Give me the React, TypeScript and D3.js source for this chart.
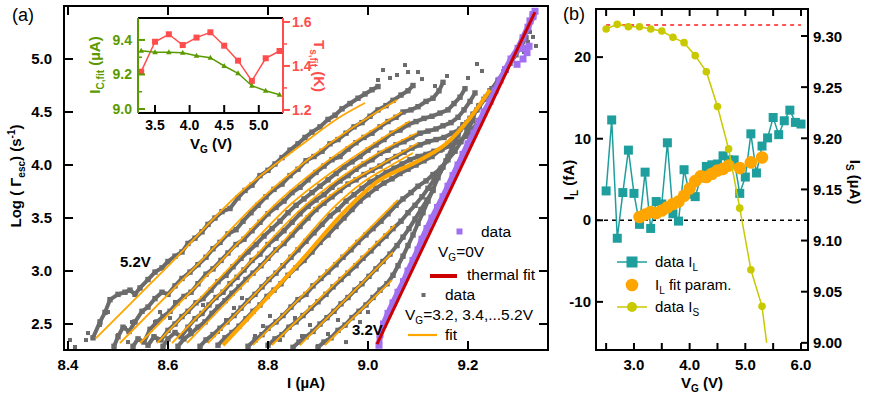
import React from 'react'
import * as d3 from 'd3'

type P = [number, number]

const FONT = 'Arial, "Liberation Sans", sans-serif'

// ---------- panel (a): log escape rate vs bias current ----------
const xTicksA = [8.4, 8.6, 8.8, 9.0, 9.2]
const yTicksA = [2.5, 3.0, 3.5, 4.0, 4.5, 5.0]

// fits, from VG = 5.2 V (left) to 3.2 V (right)
const fit1: P[] = [[8.456, 2.368], [8.608, 3.085], [8.75, 3.764], [8.864, 4.179], [8.944, 4.453], [8.994, 4.585]]
const fit2: P[] = [[8.504, 2.321], [8.664, 3.085], [8.784, 3.67], [8.884, 4.066], [8.974, 4.368], [9.058, 4.613]]
const fit3: P[] = [[8.544, 2.321], [8.704, 3.085], [8.824, 3.67], [8.914, 4.019], [8.994, 4.283], [9.068, 4.5]]
const fit4: P[] = [[8.578, 2.321], [8.734, 3.085], [8.844, 3.623], [8.934, 3.953], [9.014, 4.208], [9.084, 4.415]]
const fit5: P[] = [[8.608, 2.321], [8.764, 3.085], [8.864, 3.575], [8.944, 3.877], [9.024, 4.123], [9.098, 4.302]]
const fit6: P[] = [[8.638, 2.321], [8.794, 3.085], [8.894, 3.594], [8.954, 3.811], [9.024, 4.0], [9.1, 4.208]]
const fit7: P[] = [[8.68, 2.321], [8.834, 3.085], [8.934, 3.613], [8.988, 3.83], [9.044, 3.991], [9.09, 4.113]]
const fitThick: P[] = [[8.71, 2.302], [8.864, 3.085], [8.964, 3.613], [9.018, 3.84], [9.104, 4.047], [9.158, 4.208], [9.204, 4.443], [9.244, 4.708]]
const fit9: P[] = [[8.77, 2.302], [9.06, 3.67]]
const fit10: P[] = [[8.808, 2.302], [9.054, 3.434]]
const fit11: P[] = [[8.864, 2.302], [9.05, 3.179]]
const fit12: P[] = [[8.914, 2.302], [9.048, 2.915]]

// gray data traces
const g1: P[] = [[8.45, 2.37], [8.464, 2.52], [8.474, 2.61], [8.484, 2.73], [8.5, 2.78], [8.514, 2.8], [8.524, 2.82], [8.534, 2.78], [8.544, 2.84], [8.56, 2.92], [8.574, 2.99], [8.588, 3.03], [8.6, 3.09], [8.614, 3.14], [8.628, 3.18], [8.64, 3.26], [8.654, 3.31], [8.668, 3.37], [8.68, 3.44], [8.694, 3.5], [8.708, 3.56], [8.724, 3.59], [8.74, 3.69], [8.754, 3.76], [8.768, 3.81], [8.784, 3.9], [8.8, 3.95], [8.814, 4.01], [8.828, 4.07], [8.844, 4.14], [8.86, 4.2], [8.874, 4.26], [8.888, 4.31], [8.904, 4.36], [8.92, 4.43], [8.934, 4.47], [8.948, 4.53], [8.964, 4.58], [8.98, 4.63], [8.994, 4.67], [9.008, 4.71], [9.02, 4.74]]
const g2: P[] = [[8.492, 2.29], [8.5, 2.38], [8.51, 2.47], [8.522, 2.43], [8.534, 2.52], [8.548, 2.62], [8.56, 2.66], [8.574, 2.74], [8.588, 2.8], [8.6, 2.78], [8.614, 2.86], [8.628, 2.93], [8.644, 2.99], [8.66, 3.06], [8.676, 3.13], [8.69, 3.21], [8.704, 3.27], [8.72, 3.35], [8.736, 3.39], [8.75, 3.47], [8.766, 3.55], [8.78, 3.62], [8.796, 3.7], [8.812, 3.77], [8.828, 3.82], [8.844, 3.9], [8.86, 3.96], [8.876, 4.04], [8.892, 4.08], [8.908, 4.13], [8.924, 4.2], [8.94, 4.24], [8.956, 4.3], [8.972, 4.36], [8.988, 4.4], [9.004, 4.46], [9.02, 4.52], [9.036, 4.56], [9.05, 4.61], [9.066, 4.66], [9.08, 4.7], [9.09, 4.75]]
const g3: P[] = [[8.53, 2.29], [8.54, 2.36], [8.552, 2.33], [8.564, 2.45], [8.578, 2.52], [8.59, 2.57], [8.604, 2.62], [8.618, 2.7], [8.632, 2.76], [8.646, 2.8], [8.66, 2.88], [8.676, 2.97], [8.69, 3.02], [8.706, 3.1], [8.72, 3.17], [8.736, 3.25], [8.752, 3.3], [8.768, 3.38], [8.784, 3.46], [8.8, 3.54], [8.816, 3.6], [8.832, 3.66], [8.848, 3.74], [8.864, 3.79], [8.88, 3.86], [8.896, 3.93], [8.912, 3.99], [8.928, 4.05], [8.944, 4.08], [8.96, 4.15], [8.976, 4.21], [8.992, 4.26], [9.008, 4.3], [9.024, 4.36], [9.04, 4.41], [9.056, 4.45], [9.07, 4.5], [9.086, 4.52], [9.1, 4.55], [9.116, 4.6], [9.13, 4.63], [9.142, 4.7], [9.15, 4.78]]
const g4: P[] = [[8.56, 2.3], [8.572, 2.38], [8.586, 2.35], [8.6, 2.44], [8.614, 2.5], [8.628, 2.57], [8.64, 2.62], [8.656, 2.7], [8.67, 2.74], [8.686, 2.82], [8.7, 2.9], [8.716, 2.96], [8.73, 3.04], [8.746, 3.12], [8.76, 3.18], [8.776, 3.25], [8.792, 3.33], [8.808, 3.4], [8.824, 3.47], [8.84, 3.55], [8.856, 3.62], [8.872, 3.68], [8.888, 3.74], [8.904, 3.8], [8.92, 3.86], [8.936, 3.92], [8.952, 3.98], [8.968, 4.03], [8.984, 4.08], [9.0, 4.14], [9.016, 4.19], [9.032, 4.24], [9.048, 4.3], [9.064, 4.33], [9.08, 4.38], [9.096, 4.41], [9.112, 4.44], [9.128, 4.46], [9.144, 4.49], [9.16, 4.52], [9.172, 4.58], [9.184, 4.64], [9.194, 4.72]]
const g5: P[] = [[8.59, 2.29], [8.6, 2.36], [8.614, 2.42], [8.626, 2.38], [8.64, 2.47], [8.654, 2.55], [8.668, 2.6], [8.682, 2.68], [8.696, 2.75], [8.71, 2.8], [8.724, 2.88], [8.738, 2.94], [8.752, 3.01], [8.768, 3.1], [8.784, 3.16], [8.8, 3.25], [8.816, 3.31], [8.832, 3.38], [8.848, 3.46], [8.864, 3.54], [8.88, 3.61], [8.896, 3.67], [8.912, 3.72], [8.928, 3.79], [8.944, 3.85], [8.96, 3.9], [8.976, 3.96], [8.992, 4.01], [9.008, 4.05], [9.024, 4.11], [9.04, 4.14], [9.056, 4.19], [9.072, 4.22], [9.088, 4.26], [9.104, 4.3], [9.12, 4.32], [9.136, 4.34], [9.15, 4.37], [9.166, 4.4], [9.18, 4.45], [9.192, 4.52], [9.204, 4.6], [9.214, 4.68]]
const g6: P[] = [[8.62, 2.29], [8.632, 2.36], [8.646, 2.41], [8.66, 2.47], [8.674, 2.52], [8.688, 2.6], [8.7, 2.66], [8.714, 2.72], [8.728, 2.79], [8.742, 2.85], [8.756, 2.92], [8.77, 2.98], [8.786, 3.05], [8.8, 3.12], [8.816, 3.2], [8.832, 3.26], [8.848, 3.34], [8.864, 3.42], [8.88, 3.5], [8.896, 3.58], [8.912, 3.64], [8.928, 3.7], [8.944, 3.76], [8.96, 3.82], [8.976, 3.86], [8.992, 3.91], [9.008, 3.95], [9.024, 3.99], [9.04, 4.04], [9.056, 4.08], [9.072, 4.12], [9.088, 4.16], [9.104, 4.19], [9.12, 4.22], [9.136, 4.24], [9.152, 4.26], [9.168, 4.3], [9.184, 4.34], [9.198, 4.4], [9.21, 4.48], [9.222, 4.56]]
const g7: P[] = [[8.664, 2.29], [8.676, 2.35], [8.69, 2.4], [8.704, 2.46], [8.718, 2.52], [8.732, 2.58], [8.746, 2.65], [8.76, 2.72], [8.774, 2.78], [8.788, 2.85], [8.802, 2.92], [8.816, 2.98], [8.83, 3.05], [8.846, 3.13], [8.86, 3.2], [8.876, 3.28], [8.892, 3.36], [8.908, 3.44], [8.924, 3.52], [8.94, 3.58], [8.956, 3.66], [8.972, 3.72], [8.988, 3.78], [9.004, 3.84], [9.02, 3.88], [9.036, 3.93], [9.052, 3.97], [9.068, 4.01], [9.084, 4.05], [9.1, 4.08], [9.116, 4.1], [9.132, 4.13], [9.148, 4.15], [9.164, 4.18], [9.18, 4.22], [9.196, 4.27], [9.21, 4.34], [9.222, 4.42], [9.232, 4.5]]
const g8: P[] = [[8.7, 2.3], [8.714, 2.37], [8.728, 2.42], [8.742, 2.48], [8.756, 2.55], [8.77, 2.62], [8.784, 2.68], [8.798, 2.76], [8.812, 2.82], [8.826, 2.88], [8.84, 2.96], [8.856, 3.03], [8.872, 3.1], [8.888, 3.18], [8.904, 3.27], [8.92, 3.34], [8.936, 3.42], [8.952, 3.5], [8.968, 3.58], [8.984, 3.66], [9.0, 3.72], [9.016, 3.78], [9.032, 3.83], [9.048, 3.87], [9.064, 3.92], [9.08, 3.96], [9.096, 4.0], [9.112, 4.04], [9.128, 4.08], [9.144, 4.14], [9.16, 4.2], [9.176, 4.28], [9.19, 4.36], [9.204, 4.44], [9.218, 4.52], [9.232, 4.62], [9.244, 4.7]]
const g9: P[] = [[8.76, 2.29], [8.774, 2.35], [8.788, 2.4], [8.8, 2.46], [8.816, 2.52], [8.83, 2.58], [8.846, 2.66], [8.86, 2.73], [8.876, 2.78], [8.89, 2.86], [8.906, 2.93], [8.92, 2.99], [8.936, 3.06], [8.95, 3.13], [8.966, 3.2], [8.98, 3.27], [8.996, 3.34], [9.01, 3.4], [9.026, 3.47], [9.04, 3.54], [9.056, 3.62], [9.07, 3.68], [9.086, 3.74], [9.1, 3.8], [9.116, 3.85], [9.13, 3.91], [9.146, 3.97], [9.16, 4.05], [9.174, 4.13], [9.186, 4.22], [9.198, 4.32], [9.21, 4.42]]
const g10: P[] = [[8.8, 2.3], [8.814, 2.36], [8.828, 2.4], [8.842, 2.47], [8.856, 2.52], [8.87, 2.58], [8.886, 2.65], [8.9, 2.71], [8.916, 2.78], [8.93, 2.85], [8.946, 2.92], [8.96, 2.98], [8.976, 3.05], [8.99, 3.12], [9.006, 3.19], [9.02, 3.26], [9.036, 3.33], [9.05, 3.4], [9.066, 3.47], [9.08, 3.55], [9.094, 3.62], [9.108, 3.7], [9.12, 3.78], [9.132, 3.86], [9.144, 3.95], [9.156, 4.04], [9.168, 4.12]]
const g11: P[] = [[8.85, 2.28], [8.862, 2.33], [8.876, 2.38], [8.89, 2.43], [8.904, 2.5], [8.918, 2.56], [8.932, 2.62], [8.946, 2.69], [8.96, 2.75], [8.974, 2.82], [8.988, 2.88], [9.002, 2.95], [9.016, 3.02], [9.03, 3.09], [9.044, 3.16], [9.058, 3.24], [9.07, 3.32], [9.082, 3.4], [9.094, 3.49], [9.106, 3.58], [9.118, 3.67], [9.13, 3.76]]
const g12: P[] = [[8.9, 2.28], [8.912, 2.33], [8.926, 2.37], [8.94, 2.44], [8.954, 2.49], [8.968, 2.56], [8.982, 2.62], [8.996, 2.68], [9.01, 2.75], [9.024, 2.82], [9.038, 2.88], [9.05, 2.96], [9.06, 3.05], [9.07, 3.14], [9.08, 3.24], [9.09, 3.34], [9.1, 3.45], [9.11, 3.55], [9.12, 3.66], [9.13, 3.77], [9.14, 3.88], [9.15, 3.98], [9.16, 4.08], [9.17, 4.18], [9.18, 4.28], [9.19, 4.38]]
const g13: P[] = [[9.2, 4.36], [9.21, 4.46], [9.222, 4.55], [9.236, 4.64], [9.248, 4.72], [9.26, 4.8], [9.272, 4.88], [9.284, 4.96], [9.296, 5.04], [9.306, 5.12], [9.316, 5.2]]

const grayScatter: P[] = [
  [8.404, 2.349], [8.414, 2.283], [8.44, 2.415], [8.436, 2.349], [8.464, 2.491], [8.48, 2.613],
  [8.5, 2.396], [8.514, 2.462], [8.528, 2.519], [8.52, 2.33], [8.564, 2.443], [8.574, 2.519],
  [8.584, 2.613], [8.58, 2.349], [8.604, 2.557], [8.614, 2.708], [8.644, 2.443], [8.656, 2.557],
  [8.67, 2.679], [8.7, 2.425], [8.716, 2.538], [8.732, 2.651], [8.748, 2.745], [8.774, 2.387],
  [8.79, 2.481], [8.804, 2.576], [8.824, 2.349], [8.84, 2.462], [8.854, 2.557], [8.868, 2.387],
  [8.884, 2.491], [8.9, 2.293], [8.92, 2.406], [8.94, 2.538], [8.956, 2.33], [8.984, 2.519],
  [9.0, 2.613], [9.02, 4.802], [9.03, 4.896], [9.044, 4.821], [9.058, 4.849], [9.074, 4.943],
  [9.08, 4.877], [9.1, 4.877], [9.108, 4.811], [9.134, 4.745], [9.158, 4.84], [9.2, 4.821],
  [9.218, 4.953], [9.228, 4.887], [9.324, 5.255], [9.33, 5.208], [9.32, 5.16], [9.336, 5.123],
  [9.312, 5.066],
]

// VG = 0 V data and thermal fit
const purpleBand: P[] = [[9.022, 2.3], [9.024, 2.4], [9.031, 2.5], [9.04, 2.6], [9.05, 2.7], [9.06, 2.8], [9.071, 2.9], [9.08, 3.0], [9.09, 3.1], [9.1, 3.2], [9.108, 3.3], [9.118, 3.4], [9.128, 3.5], [9.139, 3.6], [9.15, 3.7], [9.16, 3.8], [9.17, 3.9], [9.18, 4.0], [9.19, 4.1], [9.2, 4.2], [9.212, 4.3], [9.222, 4.4], [9.232, 4.5], [9.244, 4.6], [9.254, 4.7], [9.264, 4.8], [9.275, 4.9], [9.286, 5.0], [9.3, 5.1], [9.31, 5.2], [9.32, 5.3], [9.33, 5.4], [9.334, 5.45]]
const purpleExtra: P[] = [[9.298, 4.95], [9.31, 5.0], [9.318, 5.06], [9.322, 5.12], [9.312, 5.1], [9.324, 5.36], [9.33, 5.42]]
const thermalFit: P[] = [[9.018, 2.311], [9.334, 5.443]]

// inset
const insetXTicks = [3.5, 4.0, 4.5, 5.0]
const insetIcTicks = [9.0, 9.2, 9.4]
const insetIcMinor = [9.1, 9.3]
const insetTsTicks = [1.2, 1.4, 1.6]
const insetTsMinor = [1.3, 1.5]
const insetVg = [3.3, 3.5, 3.7, 3.9, 4.1, 4.3, 4.5, 4.7, 4.9, 5.1, 5.3]
const icFit = [9.338, 9.329, 9.329, 9.326, 9.309, 9.297, 9.249, 9.207, 9.135, 9.106, 9.083]
const tsFit = [1.374, 1.51, 1.544, 1.495, 1.529, 1.553, 1.492, 1.424, 1.332, 1.435, 1.468]

// ---------- panel (b) ----------
const xTicksB = [2.5, 3.0, 3.5, 4.0, 4.5, 5.0, 5.5, 6.0]
const xLabelsB = [3.0, 4.0, 5.0, 6.0]
const yTicksBL = [-10, 0, 10, 20]
const yTicksBR = [9.0, 9.05, 9.1, 9.15, 9.2, 9.25, 9.3]
const vgL = [2.5, 2.6, 2.7, 2.8, 2.9, 3.0, 3.1, 3.2, 3.3, 3.4, 3.5, 3.6, 3.7, 3.8, 3.9, 4.0, 4.1, 4.2, 4.3, 4.4, 4.5, 4.6, 4.7, 4.8, 4.9, 5.0, 5.1, 5.2, 5.3, 5.4, 5.5, 5.6, 5.7, 5.8, 5.9, 6.0]
const ilData = [3.6, 12.3, -2.2, 3.4, 8.6, 3.3, -0.5, 5.9, -1.0, 2.3, 2.0, 9.5, 0.8, -0.1, 6.2, 3.2, 2.9, 5.2, 6.6, 6.8, 6.9, 7.9, 7.4, 7.4, 3.3, 5.3, 10.6, 5.8, 9.1, 10.1, 12.6, 10.5, 12.2, 13.5, 12.0, 11.8]
const vgFit = [3.1, 3.2, 3.3, 3.4, 3.5, 3.6, 3.7, 3.8, 3.9, 4.0, 4.1, 4.2, 4.3, 4.4, 4.5, 4.6, 4.7, 4.9, 5.1, 5.3]
const ilFit = [0.4, 0.7, 1.0, 0.9, 1.2, 1.6, 2.0, 2.3, 3.0, 3.9, 4.8, 5.4, 5.3, 5.7, 6.1, 6.3, 6.7, 6.4, 7.1, 7.7]
const vgS = [2.5, 2.7, 2.9, 3.1, 3.3, 3.5, 3.7, 3.9, 4.1, 4.3, 4.5, 4.7, 4.9, 5.1, 5.3, 5.5]
const isData = [9.3068, 9.3114, 9.3091, 9.3091, 9.3068, 9.3049, 9.2987, 9.2935, 9.2808, 9.2651, 9.231, 9.1896, 9.1317, 9.0715, 9.0357, 8.95]
const isRef = 9.3107
const isRefRange = [2.5, 6.0]

const ORANGE = '#ffa500'
const GRAY = '#6b6b6b'
const PURPLE = '#a070f0'
const RED = '#cc0000'
const TEAL = '#1f9e9e'
const YELLOW = '#c9c900'
const GREEN = '#5a9a00'
const PINK = '#ff4d4d'

export default function App() {
  // panel (a)
  const xA = d3.scaleLinear([8.392, 9.36], [64, 548])
  const yA = d3.scaleLinear([2.255, 5.5], [350, 6])
  const lineA = d3.line<P>().x(d => xA(d[0])).y(d => yA(d[1]))
  const fitA = d3.line<P>().x(d => xA(d[0])).y(d => yA(d[1])).curve(d3.curveMonotoneX)

  // inset
  const xI = d3.scaleLinear([3.254, 5.35], [138, 283])
  const yIc = d3.scaleLinear([8.977, 9.527], [113, 18])
  const yIt = d3.scaleLinear([1.186, 1.618], [113, 18])
  const icLine = d3.line<number>().x((_, i) => xI(insetVg[i])).y(d => yIc(d))
  const tsLine = d3.line<number>().x((_, i) => xI(insetVg[i])).y(d => yIt(d))

  // panel (b)
  const xB = d3.scaleLinear([2.318, 6.126], [596, 808])
  const yBL = d3.scaleLinear([-15.9, 25.9], [350, 9])
  const yBR = d3.scaleLinear([8.993, 9.3264], [350, 9])
  const ilLine = d3.line<number>().x((_, i) => xB(vgL[i])).y(d => yBL(d))
  const isLine = d3.line<number>().x((_, i) => xB(vgS[i])).y(d => yBR(d))

  const thinFits = [fit1, fit2, fit3, fit4, fit5, fit6, fit7, fit9, fit10, fit11, fit12]
  const grays = [g1, g2, g3, g4, g5, g6, g7, g8, g9, g10, g11, g12, g13]

  const tickA = 9
  const tickB = 7

  return (
    <svg width={871} height={396} style={{ position: 'absolute', left: 0, top: 0, background: '#fff' }} fontFamily={FONT}>
      <defs>
        <clipPath id="clipA"><rect x={64} y={6} width={484} height={344} /></clipPath>
        <clipPath id="clipBS"><rect x={596} y={9} width={212} height={yBR(9.0) - 9} /></clipPath>
      </defs>

      {/* ---------------- panel (a) ---------------- */}
      <g clipPath="url(#clipA)">
        {grays.map((g, i) => (
          <g key={i}>
            <path d={lineA(g) || ''} fill="none" stroke={GRAY} strokeWidth={4} strokeLinejoin="round" />
            {g.map((d, j) => (
              <rect key={j} x={xA(d[0]) - 2.7} y={yA(d[1]) - 2.7} width={5.4} height={5.4} fill={GRAY} />
            ))}
          </g>
        ))}
        {grayScatter.map((d, i) => (
          <rect key={i} x={xA(d[0]) - 2} y={yA(d[1]) - 2} width={4} height={4} fill={GRAY} />
        ))}
        <path d={lineA(purpleBand) || ''} fill="none" stroke={PURPLE} strokeWidth={6} />
        {purpleBand.concat(purpleExtra).map((d, i) => (
          <rect key={i} x={xA(d[0]) - 3.5} y={yA(d[1]) - 3.5} width={7} height={7} fill={PURPLE} />
        ))}
        {thinFits.map((f, i) => (
          <path key={i} d={fitA(f) || ''} fill="none" stroke={ORANGE} strokeWidth={1.8} />
        ))}
        <path d={fitA(fitThick) || ''} fill="none" stroke={ORANGE} strokeWidth={4} />
        <path d={lineA(thermalFit) || ''} fill="none" stroke={RED} strokeWidth={3} />
      </g>

      {/* frame and ticks (a) */}
      <rect x={64} y={6} width={484} height={344} fill="none" stroke="#000" strokeWidth={2} />
      {xTicksA.map(v => (
        <g key={v}>
          <line x1={xA(v)} x2={xA(v)} y1={350} y2={350 - tickA} stroke="#000" strokeWidth={2} />
          <line x1={xA(v)} x2={xA(v)} y1={6} y2={6 + tickA} stroke="#000" strokeWidth={2} />
          <text x={xA(v)} y={370} textAnchor="middle" fontSize={15} fontWeight="bold">{v.toFixed(1)}</text>
        </g>
      ))}
      {yTicksA.map(v => (
        <g key={v}>
          <line x1={64} x2={64 + tickA} y1={yA(v)} y2={yA(v)} stroke="#000" strokeWidth={2} />
          <line x1={548} x2={548 - tickA} y1={yA(v)} y2={yA(v)} stroke="#000" strokeWidth={2} />
          <text x={52} y={yA(v) + 5} textAnchor="end" fontSize={15} fontWeight="bold">{v.toFixed(1)}</text>
        </g>
      ))}
      <text x={12} y={21} fontSize={18}>(a)</text>
      <text x={306} y={388} textAnchor="middle" fontSize={15} fontWeight="bold">I (µA)</text>
      <text transform="translate(21,176) rotate(-90)" textAnchor="middle" fontSize={15} fontWeight="bold">
        Log ( Γ<tspan dy={4} fontSize={10}>esc</tspan><tspan dy={-4}>) (s</tspan><tspan dy={-6} fontSize={10}>-1</tspan><tspan dy={6}>)</tspan>
      </text>
      <text x={120} y={267} fontSize={15} fontWeight="bold">5.2V</text>
      <text x={352} y={335} fontSize={15} fontWeight="bold">3.2V</text>

      {/* legend (a) */}
      <rect x={456.5} y={228.5} width={6} height={6} fill={PURPLE} />
      <text x={481} y={237} fontSize={15.5}>data</text>
      <text x={438} y={257} fontSize={15.5}>V<tspan dy={4} fontSize={10}>G</tspan><tspan dy={-4}>=0V</tspan></text>
      <line x1={430} x2={457} y1={276} y2={276} stroke={RED} strokeWidth={4} />
      <text x={467} y={280} fontSize={15.5}>thermal fit</text>
      <rect x={421.5} y={293} width={4} height={4} fill={GRAY} />
      <text x={445} y={300} fontSize={15.5}>data</text>
      <text x={405} y={320} fontSize={15.5}>V<tspan dy={4} fontSize={10}>G</tspan><tspan dy={-4}>=3.2, 3.4,...5.2V</tspan></text>
      <line x1={408} x2={437} y1={335} y2={335} stroke={ORANGE} strokeWidth={2.2} />
      <text x={445} y={340} fontSize={15.5}>fit</text>

      {/* inset */}
      <rect x={138} y={18} width={145} height={95} fill="#fff" />
      <path d={tsLine(tsFit) || ''} fill="none" stroke={PINK} strokeWidth={1.5} />
      {tsFit.map((d, i) => (
        <rect key={i} x={xI(insetVg[i]) - 3} y={yIt(d) - 3} width={6} height={6} fill={PINK} />
      ))}
      <path d={icLine(icFit) || ''} fill="none" stroke={GREEN} strokeWidth={1.5} />
      {icFit.map((d, i) => {
        const cx = xI(insetVg[i]), cy = yIc(d)
        return <path key={i} d={`M${cx},${cy - 3}L${cx + 2.8},${cy + 2}L${cx - 2.8},${cy + 2}Z`} fill={GREEN} />
      })}
      <line x1={138} x2={283} y1={18} y2={18} stroke="#000" strokeWidth={2} />
      <line x1={138} x2={283} y1={113} y2={113} stroke="#000" strokeWidth={2} />
      <line x1={138} x2={138} y1={18} y2={113} stroke={GREEN} strokeWidth={2} />
      <line x1={283} x2={283} y1={18} y2={113} stroke={PINK} strokeWidth={2} />
      {insetXTicks.map(v => (
        <g key={v}>
          <line x1={xI(v)} x2={xI(v)} y1={113} y2={105} stroke="#000" strokeWidth={2} />
          <text x={xI(v)} y={130} textAnchor="middle" fontSize={14} fontWeight="bold">{v.toFixed(1)}</text>
        </g>
      ))}
      {insetIcTicks.map(v => (
        <g key={v}>
          <line x1={138} x2={145} y1={yIc(v)} y2={yIc(v)} stroke={GREEN} strokeWidth={2} />
          <text x={132} y={yIc(v) + 5} textAnchor="end" fontSize={14} fontWeight="bold" fill={GREEN}>{v.toFixed(1)}</text>
        </g>
      ))}
      {insetIcMinor.map(v => (
        <line key={v} x1={138} x2={142} y1={yIc(v)} y2={yIc(v)} stroke={GREEN} strokeWidth={1.5} />
      ))}
      {insetTsTicks.map(v => (
        <g key={v}>
          <line x1={283} x2={290} y1={yIt(v)} y2={yIt(v)} stroke={PINK} strokeWidth={2} />
          <text x={292} y={yIt(v) + 5} fontSize={14} fontWeight="bold" fill={PINK}>{v.toFixed(1)}</text>
        </g>
      ))}
      {insetTsMinor.map(v => (
        <line key={v} x1={283} x2={287} y1={yIt(v)} y2={yIt(v)} stroke={PINK} strokeWidth={1.5} />
      ))}
      <text x={211} y={149} textAnchor="middle" fontSize={15} fontWeight="bold">
        V<tspan dy={4} fontSize={10}>G</tspan><tspan dy={-4}> (V)</tspan>
      </text>
      <text transform="translate(100,65) rotate(-90)" textAnchor="middle" fontSize={15} fontWeight="bold" fill={GREEN}>
        I<tspan dy={4} fontSize={10}>C,fit</tspan><tspan dy={-4}> (µA)</tspan>
      </text>
      <text transform="translate(314,66) rotate(90)" textAnchor="middle" fontSize={15} fontWeight="bold" fill={PINK}>
        T<tspan dy={4} fontSize={10}>s,fit</tspan><tspan dy={-4}> (K)</tspan>
      </text>

      {/* ---------------- panel (b) ---------------- */}
      <line x1={xB(isRefRange[0])} x2={xB(isRefRange[1])} y1={yBR(isRef)} y2={yBR(isRef)} stroke="#ff5555" strokeWidth={2} strokeDasharray="4,4" />
      <line x1={596} x2={808} y1={yBL(0)} y2={yBL(0)} stroke="#000" strokeWidth={1.5} strokeDasharray="4,4" />
      <path d={ilLine(ilData) || ''} fill="none" stroke={TEAL} strokeWidth={1.5} />
      {ilData.map((d, i) => (
        <rect key={i} x={xB(vgL[i]) - 4.5} y={yBL(d) - 4.5} width={9} height={9} fill={TEAL} />
      ))}
      {ilFit.map((d, i) => (
        <circle key={i} cx={xB(vgFit[i])} cy={yBL(d)} r={6.3} fill={ORANGE} />
      ))}
      <g clipPath="url(#clipBS)">
        <path d={isLine(isData) || ''} fill="none" stroke={YELLOW} strokeWidth={1.5} />
        {isData.map((d, i) => (
          <circle key={i} cx={xB(vgS[i])} cy={yBR(d)} r={3.8} fill={YELLOW} />
        ))}
      </g>

      <rect x={596} y={9} width={212} height={341} fill="none" stroke="#000" strokeWidth={2} />
      {xTicksB.map(v => (
        <g key={v}>
          <line x1={xB(v)} x2={xB(v)} y1={350} y2={350 - tickB} stroke="#000" strokeWidth={2} />
          <line x1={xB(v)} x2={xB(v)} y1={9} y2={9 + tickB} stroke="#000" strokeWidth={2} />
        </g>
      ))}
      {xLabelsB.map(v => (
        <text key={v} x={xB(v)} y={370} textAnchor="middle" fontSize={15} fontWeight="bold">{v.toFixed(1)}</text>
      ))}
      {yTicksBL.map(v => (
        <g key={v}>
          <line x1={596} x2={596 + tickB} y1={yBL(v)} y2={yBL(v)} stroke="#000" strokeWidth={2} />
          <text x={591} y={yBL(v) + 5} textAnchor="end" fontSize={15} fontWeight="bold">{v}</text>
        </g>
      ))}
      {yTicksBR.map(v => (
        <g key={v}>
          <line x1={808} x2={808 - tickB} y1={yBR(v)} y2={yBR(v)} stroke="#000" strokeWidth={2} />
          <text x={813} y={yBR(v) + 5.5} fontSize={15} fontWeight="bold">{v.toFixed(2)}</text>
        </g>
      ))}
      <text x={563} y={20} fontSize={18}>(b)</text>
      <text x={702} y={388} textAnchor="middle" fontSize={15} fontWeight="bold">
        V<tspan dy={4} fontSize={10}>G</tspan><tspan dy={-4}> (V)</tspan>
      </text>
      <text transform="translate(574,180) rotate(-90)" textAnchor="middle" fontSize={15} fontWeight="bold">
        I<tspan dy={4} fontSize={10}>L</tspan><tspan dy={-4}> (fA)</tspan>
      </text>
      <text transform="translate(850,182) rotate(90)" textAnchor="middle" fontSize={15} fontWeight="bold">
        I<tspan dy={4} fontSize={10}>S</tspan><tspan dy={-4}> (µA)</tspan>
      </text>

      {/* legend (b) */}
      <line x1={617} x2={647} y1={262} y2={262} stroke={TEAL} strokeWidth={1.5} />
      <rect x={626.5} y={256.5} width={11} height={11} fill={TEAL} />
      <text x={655} y={267} fontSize={15}>data I<tspan dy={4} fontSize={10}>L</tspan></text>
      <circle cx={632} cy={285} r={6.3} fill={ORANGE} />
      <text x={655} y={290} fontSize={15}>I<tspan dy={4} fontSize={10}>L</tspan><tspan dy={-4}> fit param.</tspan></text>
      <line x1={617} x2={647} y1={307} y2={307} stroke={YELLOW} strokeWidth={1.5} />
      <circle cx={632} cy={307} r={5} fill={YELLOW} />
      <text x={655} y={312} fontSize={15}>data I<tspan dy={4} fontSize={10}>S</tspan></text>
    </svg>
  )
}
